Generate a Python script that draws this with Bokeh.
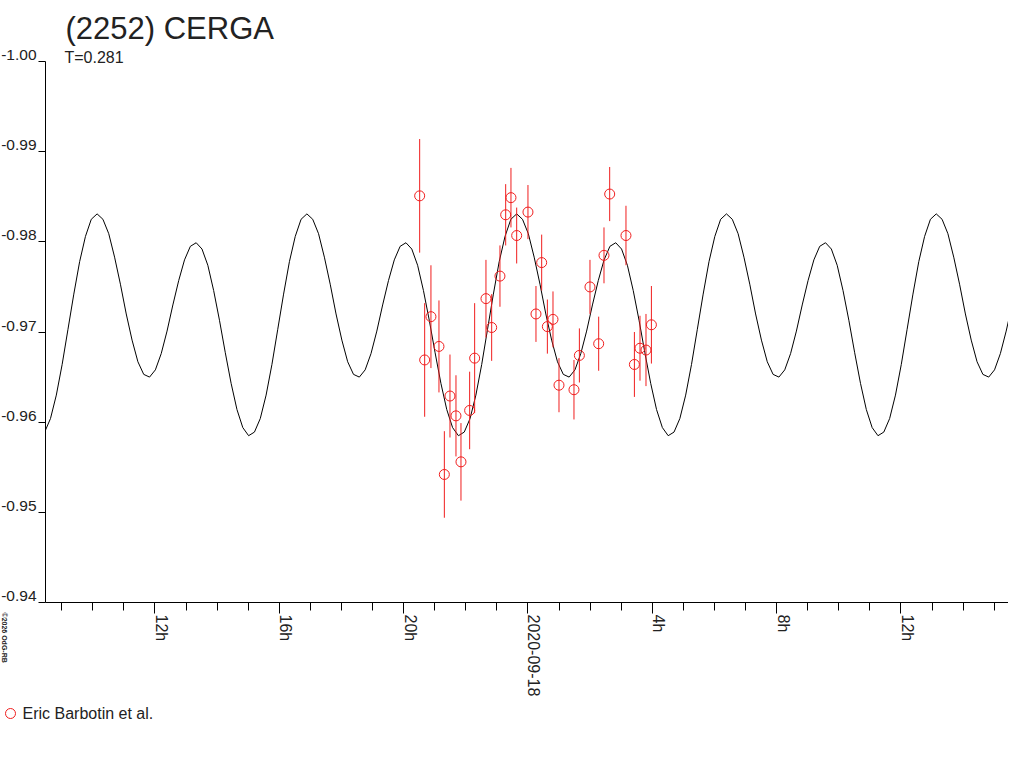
import math
import numpy as np
from bokeh.plotting import figure
from bokeh.models import Range1d, FixedTicker, ColumnDataSource, CustomJSTickFormatter
from bokeh.core.properties import value
from bokeh.embed import file_html
from bokeh.resources import INLINE

# ---------------- data ----------------
TITLE = "(2252) CERGA"
SUBTITLE = "T=0.281"
OBSERVER = "Eric Barbotin et al."
CREDIT = "\u00a92026 OdG-RB"

# observations: hours since 2020-09-17 00:00, magnitude, error
obs_hours = [20.517, 20.678, 20.880, 21.138, 21.311, 21.492, 21.685, 21.846, 22.125, 22.286,
             22.650, 22.833, 23.100, 23.284, 23.454, 23.638, 24.001, 24.259, 24.442, 24.625,
             24.806, 24.999, 25.481, 25.655, 25.996, 26.276, 26.447, 26.630, 27.154, 27.425,
             27.605, 27.798, 27.972]
obs_mag = [-0.9851, -0.9669, -0.9717, -0.9684, -0.9542, -0.9629, -0.9607, -0.9556, -0.9613, -0.9671,
           -0.9737, -0.9705, -0.9762, -0.9830, -0.9849, -0.9807, -0.9833, -0.9720, -0.9777, -0.9706,
           -0.9714, -0.9641, -0.9636, -0.9674, -0.9750, -0.9687, -0.9785, -0.9853, -0.9807, -0.9664,
           -0.9682, -0.9680, -0.9708]
obs_err = [0.0063, 0.0063, 0.0057, 0.0051, 0.0048, 0.0046, 0.0045, 0.0043, 0.0043, 0.0061,
           0.0043, 0.0037, 0.0034, 0.0034, 0.0033, 0.0031, 0.0030, 0.0031, 0.0031, 0.0030,
           0.0031, 0.0030, 0.0033, 0.0030, 0.0030, 0.0030, 0.0031, 0.0030, 0.0033, 0.0036,
           0.0036, 0.0040, 0.0043]

# model light curve, sampled every curve_step_hour from curve_start_hour
curve_start_hour = 8.453
curve_step_hour = 0.18747
curve_mag = [
    -0.9589, -0.9604, -0.9630, -0.9664, -0.9703, -0.9742, -0.9778, -0.9806, -0.9825,
    -0.9831, -0.9825, -0.9809, -0.9783, -0.9753, -0.9720, -0.9691, -0.9667, -0.9653,
    -0.9650, -0.9658, -0.9676, -0.9701, -0.9730, -0.9757, -0.9780, -0.9795,
    -0.9799, -0.9792, -0.9774, -0.9746, -0.9713, -0.9677, -0.9643, -0.9614, -0.9594, -0.9585,
    -0.9589, -0.9604, -0.9630, -0.9664, -0.9703, -0.9742, -0.9778, -0.9806, -0.9825,
    -0.9831, -0.9825, -0.9809, -0.9783, -0.9753, -0.9720, -0.9691, -0.9667, -0.9653,
    -0.9650, -0.9658, -0.9676, -0.9701, -0.9730, -0.9757, -0.9780, -0.9795,
    -0.9799, -0.9792, -0.9774, -0.9746, -0.9713, -0.9677, -0.9643, -0.9614, -0.9594, -0.9585,
    -0.9589, -0.9604, -0.9630, -0.9664, -0.9703, -0.9742, -0.9778, -0.9806, -0.9825,
    -0.9831, -0.9825, -0.9809, -0.9783, -0.9753, -0.9720, -0.9691, -0.9667, -0.9653,
    -0.9650, -0.9658, -0.9676, -0.9701, -0.9730, -0.9757, -0.9780, -0.9795,
    -0.9799, -0.9792, -0.9774, -0.9746, -0.9713, -0.9677, -0.9643, -0.9614, -0.9594, -0.9585,
    -0.9589, -0.9604, -0.9630, -0.9664, -0.9703, -0.9742, -0.9778, -0.9806, -0.9825,
    -0.9831, -0.9825, -0.9809, -0.9783, -0.9753, -0.9720, -0.9691, -0.9667, -0.9653,
    -0.9650, -0.9658, -0.9676, -0.9701, -0.9730, -0.9757, -0.9780, -0.9795,
    -0.9799, -0.9792, -0.9774, -0.9746, -0.9713, -0.9677, -0.9643, -0.9614, -0.9594, -0.9585,
    -0.9589, -0.9604, -0.9630, -0.9664, -0.9703, -0.9742, -0.9778, -0.9806, -0.9825,
    -0.9831, -0.9825, -0.9809, -0.9783, -0.9753, -0.9720, -0.9691, -0.9667, -0.9653,
    -0.9650, -0.9658, -0.9676, -0.9701, -0.9730, -0.9757, -0.9780, -0.9795,
]

x_major_ticks = [12, 16, 20, 24, 28, 32, 36]
x_major_labels = ["12h", "16h", "20h", "2020-09-18", "4h", "8h", "12h"]
x_minor_ticks = list(range(9, 40))
y_ticks = [-1.00, -0.99, -0.98, -0.97, -0.96, -0.95, -0.94]
y_labels = ["-1.00", "-0.99", "-0.98", "-0.97", "-0.96", "-0.95", "-0.94"]

X_START, X_END = 8.48, 39.46
Y_BOTTOM, Y_TOP = -0.94, -1.00

# ---------------- layout / style ----------------
W, H = 1008, 752
BORDER_L, BORDER_T, BORDER_B = 45, 61, 150
FRAME_W = W - BORDER_L
FRAME_H = H - BORDER_T - BORDER_B
HOURS_PER_PX = (X_END - X_START) / FRAME_W
MAG_PER_PX = (Y_BOTTOM - Y_TOP) / FRAME_H
LEGEND_DX, LEGEND_DY = -35, 111      # legend key offset from frame's bottom-left, px

RED = "#f01e1e"
TXT = "#222222"
FONT = "Liberation Sans"

p = figure(width=W, height=H,
           x_range=Range1d(X_START, X_END), y_range=Range1d(Y_BOTTOM, Y_TOP),
           output_backend="svg", toolbar_location=None,
           min_border_left=BORDER_L, min_border_right=0,
           min_border_top=BORDER_T, min_border_bottom=BORDER_B)
p.title.text = ""
p.xgrid.visible = False
p.ygrid.visible = False
p.outline_line_color = None
p.background_fill_color = "white"
p.border_fill_color = "white"

blank = CustomJSTickFormatter(code="return ''")

xa = p.xaxis[0]
xa.ticker = FixedTicker(ticks=x_major_ticks, minor_ticks=x_minor_ticks)
xa.formatter = blank
xa.major_tick_out = 11
xa.major_tick_in = 0
xa.minor_tick_out = 8
xa.minor_tick_in = 0
xa.major_label_standoff = 0
xa.axis_line_color = "black"
xa.major_tick_line_color = "black"
xa.minor_tick_line_color = "black"

ya = p.yaxis[0]
ya.ticker = FixedTicker(ticks=y_ticks)
ya.formatter = blank
ya.major_tick_out = 7
ya.major_tick_in = 0
ya.major_label_standoff = 0
ya.minor_tick_line_color = None
ya.axis_line_color = "black"
ya.major_tick_line_color = "black"

# model curve
curve_hours = curve_start_hour + curve_step_hour * np.arange(len(curve_mag))
p.line(curve_hours, curve_mag, line_color="black", line_width=1)

# error bars + points
src = ColumnDataSource(dict(
    t=obs_hours, m=obs_mag,
    lo=np.array(obs_mag) - np.array(obs_err),
    hi=np.array(obs_mag) + np.array(obs_err),
))
p.segment(x0="t", y0="lo", x1="t", y1="hi", source=src, line_color=RED, line_width=1)
p.scatter(x="t", y="m", source=src, marker="circle", size=10,
          fill_color=None, line_color=RED, line_width=1)

# y tick labels: sit just above each tick, left of the axis
p.text(x=[X_START] * len(y_ticks), y=y_ticks, text=y_labels,
       x_offset=-9, y_offset=-6.5, text_align="right", text_baseline="alphabetic",
       text_font=value(FONT), text_font_size=value("15.5px"), text_color=TXT,
       level="overlay")

# x tick labels: rotated, reading downwards, right of each tick
p.text(x=x_major_ticks, y=[Y_BOTTOM] * len(x_major_ticks), text=x_major_labels,
       x_offset=6.5, y_offset=12, angle=-math.pi / 2,
       text_align="left", text_baseline="alphabetic",
       text_font=value(FONT), text_font_size=value("16px"), text_color=TXT,
       level="overlay")

# title, subtitle, credit
p.text(x=[X_START], y=[Y_TOP], text=[TITLE], x_offset=20, y_offset=-33,
       text_align="left", text_baseline="alphabetic",
       text_font=value(FONT), text_font_size=value("31px"), text_color=TXT,
       level="overlay")
p.text(x=[X_START], y=[Y_TOP], text=[SUBTITLE], x_offset=19, y_offset=-4.5,
       text_align="left", text_baseline="alphabetic",
       text_font=value(FONT), text_font_size=value("16px"), text_color=TXT,
       level="overlay")
p.text(x=[X_START], y=[Y_BOTTOM], text=[CREDIT], x_offset=-41, y_offset=10,
       angle=-math.pi / 2, text_align="left", text_baseline="alphabetic",
       text_font=value(FONT), text_font_size=value("7px"), text_font_style="bold",
       text_color=TXT, level="overlay")

# legend key (ring + label) below the axis
key_x = X_START + LEGEND_DX * HOURS_PER_PX
key_y = Y_BOTTOM + LEGEND_DY * MAG_PER_PX
p.arc(x=[key_x], y=[key_y], radius=5, radius_units="screen",
      start_angle=0, end_angle=2 * math.pi, line_color=RED, line_width=1,
      level="overlay")
p.text(x=[key_x], y=[key_y], text=[OBSERVER], x_offset=12, y_offset=0,
       text_align="left", text_baseline="middle",
       text_font=value(FONT), text_font_size=value("16px"), text_color=TXT,
       level="overlay")

open("out.html", "w").write(file_html(p, INLINE))
